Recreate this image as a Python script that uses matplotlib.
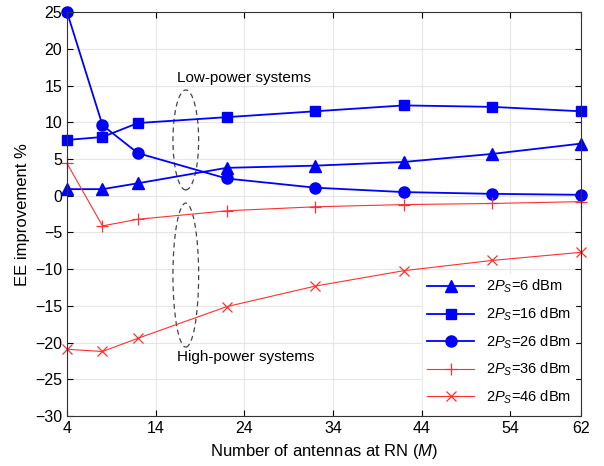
import matplotlib.pyplot as plt
from matplotlib.patches import Ellipse

plt.rcParams['font.family'] = ['Liberation Sans', 'DejaVu Sans']
plt.rcParams['mathtext.fontset'] = 'custom'
plt.rcParams['mathtext.rm'] = 'Liberation Sans'
plt.rcParams['mathtext.it'] = 'Liberation Sans:italic'

antennas = [4, 8, 12, 22, 32, 42, 52, 62]
ee_6dbm = [0.9, 0.9, 1.7, 3.8, 4.1, 4.6, 5.7, 7.1]
ee_16dbm = [7.6, 8.0, 9.9, 10.7, 11.5, 12.3, 12.1, 11.5]
ee_26dbm = [25.0, 9.6, 5.8, 2.35, 1.1, 0.5, 0.26, 0.13]
ee_36dbm = [4.4, -4.1, -3.2, -2.05, -1.5, -1.2, -1.05, -0.8]
ee_46dbm = [-20.9, -21.2, -19.4, -15.1, -12.3, -10.2, -8.8, -7.7]

xticks = [4, 14, 24, 34, 44, 54, 62]
yticks = list(range(-30, 26, 5))

fig = plt.figure(figsize=(6.04, 4.66), dpi=100)
ax = fig.add_axes([0.111, 0.107, 0.851, 0.867])

ax.plot(antennas, ee_6dbm, color='blue', lw=1.3, marker='^', ms=8, label=r'2$P_S$=6 dBm', clip_on=False)
ax.plot(antennas, ee_16dbm, color='blue', lw=1.3, marker='s', ms=7.5, label=r'2$P_S$=16 dBm', clip_on=False)
ax.plot(antennas, ee_26dbm, color='blue', lw=1.3, marker='o', ms=8, label=r'2$P_S$=26 dBm', clip_on=False)
ax.plot(antennas, ee_36dbm, color='#ff3030', lw=0.8, marker='+', ms=9, mew=0.9, label=r'2$P_S$=36 dBm', clip_on=False)
ax.plot(antennas, ee_46dbm, color='#ff3030', lw=0.8, marker='x', ms=7, mew=0.9, label=r'2$P_S$=46 dBm', clip_on=False)

# dashed ellipses grouping the curves
ax.add_patch(Ellipse((17.4, 7.6), 2.9, 13.6, fill=False, ls=(0, (4, 3)), lw=0.9, color='#444444'))
ax.add_patch(Ellipse((17.4, -10.8), 2.9, 19.6, fill=False, ls=(0, (4, 3)), lw=0.9, color='#444444'))
ax.text(16.4, 16, 'Low-power systems', fontsize=11, va='center')
ax.text(16.4, -21.9, 'High-power systems', fontsize=11, va='center')

ax.set_xlim(4, 62)
ax.set_ylim(-30, 25)
ax.set_xticks(xticks)
ax.set_yticks(yticks)
ax.tick_params(direction='in', labelsize=11.5, length=4, top=True, right=True)
ax.grid(True, color='#e6e6e6', lw=0.8)
ax.set_axisbelow(True)
for s in ax.spines.values():
    s.set_color('#333333')
    s.set_linewidth(0.8)

ax.set_xlabel(r'Number of antennas at RN ($M$)', fontsize=12)
ax.set_ylabel('EE improvement %', fontsize=12)

leg = ax.legend(loc='lower right', fontsize=10.5, frameon=True, fancybox=False,
                edgecolor='white', framealpha=1, handlelength=3.2,
                borderaxespad=0.4, borderpad=0.3, labelspacing=0.7)

fig.savefig('out.png', dpi=100)
